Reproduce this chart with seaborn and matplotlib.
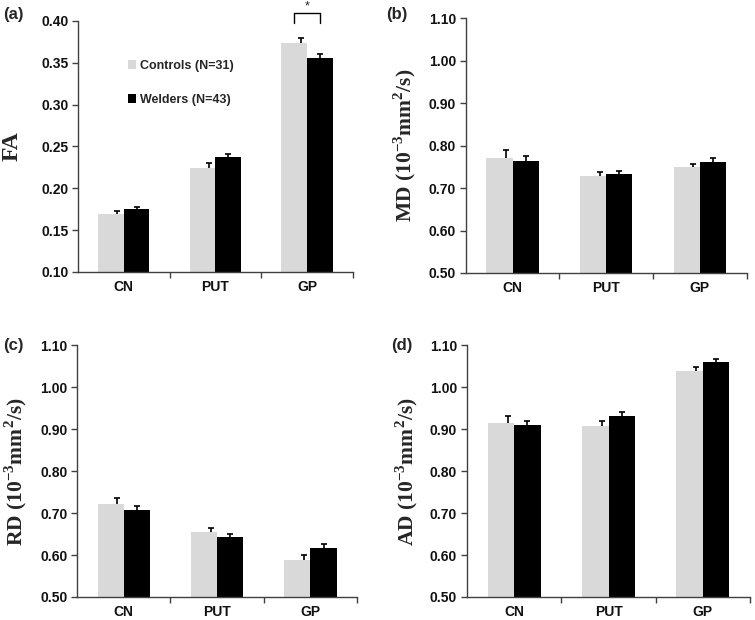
import numpy as np
import pandas as pd
import matplotlib
matplotlib.use("Agg")
import matplotlib.pyplot as plt
import seaborn as sns

# -----------------------------
# DATA
# -----------------------------
regions = ["CN", "PUT", "GP"]
groups = ["Controls (N=31)", "Welders (N=43)"]

fa_ctrl = [0.169, 0.224, 0.373]
fa_ctrl_err = [0.004, 0.006, 0.007]
fa_weld = [0.175, 0.237, 0.356]
fa_weld_err = [0.003, 0.004, 0.005]

md_ctrl = [0.771, 0.729, 0.749]
md_ctrl_err = [0.018, 0.008, 0.008]
md_weld = [0.764, 0.733, 0.762]
md_weld_err = [0.011, 0.007, 0.009]

rd_ctrl = [0.721, 0.656, 0.589]
rd_ctrl_err = [0.015, 0.009, 0.012]
rd_weld = [0.708, 0.644, 0.616]
rd_weld_err = [0.010, 0.007, 0.010]

ad_ctrl = [0.914, 0.908, 1.039]
ad_ctrl_err = [0.018, 0.011, 0.009]
ad_weld = [0.909, 0.931, 1.059]
ad_weld_err = [0.011, 0.009, 0.009]

fa_ticks = [0.10, 0.15, 0.20, 0.25, 0.30, 0.35, 0.40]
diff_ticks = [0.50, 0.60, 0.70, 0.80, 0.90, 1.00, 1.10]

# -----------------------------
# STYLE
# -----------------------------
sns.set_style("ticks")
plt.rcParams["font.family"] = ["Liberation Sans", "DejaVu Sans"]
plt.rcParams["mathtext.fontset"] = "custom"
plt.rcParams["mathtext.rm"] = "Liberation Serif:bold"
plt.rcParams["mathtext.bf"] = "Liberation Serif:bold"

palette = {groups[0]: "#d9d9d9", groups[1]: "#000000"}
spine_col = "#404040"

unit = r"(10$^{\mathbf{-3}}$mm$^{\mathbf{2}}$/s)"
panels = [
    ("(a)", "FA", fa_ctrl, fa_ctrl_err, fa_weld, fa_weld_err, fa_ticks,
     [0.1033, 0.5613, 0.364, 0.405]),
    ("(b)", "MD " + unit, md_ctrl, md_ctrl_err, md_weld, md_weld_err, diff_ticks,
     [0.617, 0.5597, 0.372, 0.411]),
    ("(c)", "RD " + unit, rd_ctrl, rd_ctrl_err, rd_weld, rd_weld_err, diff_ticks,
     [0.102, 0.0371, 0.371, 0.406]),
    ("(d)", "AD " + unit, ad_ctrl, ad_ctrl_err, ad_weld, ad_weld_err, diff_ticks,
     [0.6185, 0.0371, 0.375, 0.406]),
]
label_pos = [(0.018, 0.977), (0.525, 0.977), (0.018, 0.442), (0.532, 0.442)]
ylabel_x = [-0.20, -0.17, -0.172, -0.165]
ylabel_size = [17, 15.5, 15.5, 15.5]

fig = plt.figure(figsize=(7.55, 6.2), dpi=100)

for i, (tag, ylab, c, ce, w, we, ticks, rect) in enumerate(panels):
    ax = fig.add_axes(rect)
    df = pd.DataFrame({
        "region": regions * 2,
        "group": [groups[0]] * 3 + [groups[1]] * 3,
        "value": c + w,
    })
    sns.barplot(data=df, x="region", y="value", hue="group", order=regions,
                hue_order=groups, palette=palette, width=0.56, gap=0,
                errorbar=None, linewidth=0, legend=(i == 0), ax=ax)

    # one-sided error bars (mean + SE); controls' bars sit a bit right of centre
    errs = [ce, we]
    shifts = [0.25, 0.0]
    for cont, err, sh in zip(ax.containers, errs, shifts):
        xs = [p.get_x() + p.get_width() * (0.5 + sh) for p in cont]
        ys = [p.get_height() for p in cont]
        _, caps, _ = ax.errorbar(xs, ys, yerr=[np.zeros(3), err], fmt="none",
                                 ecolor="black", elinewidth=1.2, capsize=2.5,
                                 capthick=1.2, zorder=3)
        caps[0].set_visible(False)

    ax.set_xlim(-0.5, 2.5)
    ax.set_ylim(ticks[0], ticks[-1])
    ax.set_yticks(ticks)
    ax.set_yticklabels([f"{t:.2f}" for t in ticks])
    ax.set_xticks([0, 1, 2])
    ax.set_xticks([0.5, 1.5, 2.5], minor=True)
    ax.tick_params(axis="x", which="major", length=0, pad=6)
    ax.tick_params(axis="x", which="minor", length=4, width=1, color=spine_col)
    ax.tick_params(axis="y", length=4, width=1, color=spine_col, pad=3)
    for lab in ax.get_xticklabels() + ax.get_yticklabels():
        lab.set_fontsize(10)
        lab.set_fontweight("bold")
        lab.set_color("#111111")
    ax.set_xlabel("")
    ax.set_ylabel(ylab, fontsize=ylabel_size[i], fontweight="bold",
                  family="Liberation Serif")
    ax.yaxis.set_label_coords(ylabel_x[i], 0.5)
    sns.despine(ax=ax)
    for s in ["left", "bottom"]:
        ax.spines[s].set_color(spine_col)
        ax.spines[s].set_linewidth(1)

    fig.text(label_pos[i][0], label_pos[i][1], tag, fontsize=12,
             fontweight="bold", ha="center", va="center")

    if i == 0:
        h, l = ax.get_legend_handles_labels()
        ax.legend(h, l, loc="upper left", bbox_to_anchor=(0.14, 0.89),
                  frameon=False, handlelength=0.7, handleheight=0.7,
                  handletextpad=0.3, labelspacing=1.75,
                  prop={"weight": "bold", "size": 9})
        # significance bracket for GP
        gp = [p.get_x() + p.get_width() / 2 for p in
              (ax.containers[0][2], ax.containers[1][2])]
        ax.plot([gp[0], gp[0], gp[1], gp[1]], [0.398, 0.4095, 0.4095, 0.398],
                color="black", lw=1, clip_on=False)
        ax.text(sum(gp) / 2, 0.4175, "*", ha="center", va="center",
                fontsize=9, clip_on=False)

plt.savefig("out.png", dpi=100)
plt.close()
